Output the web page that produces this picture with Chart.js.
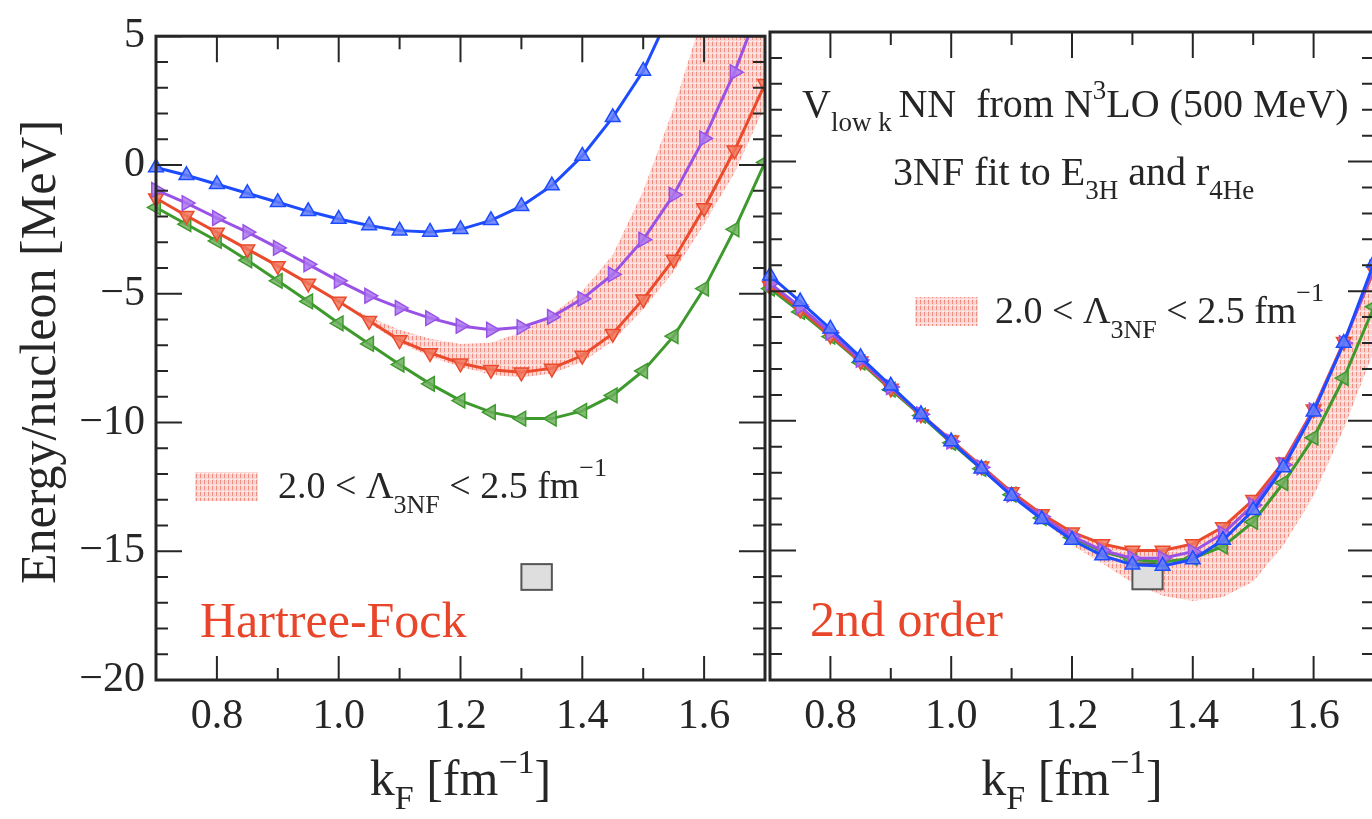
<!DOCTYPE html>
<html>
<head>
<meta charset="utf-8">
<script src="https://cdn.jsdelivr.net/npm/chart.js@4.4.1/dist/chart.umd.min.js"></script>
<style>
  html, body { margin: 0; padding: 0; background: #fff; overflow: hidden; width: 1372px; height: 819px; }
  #esq { position: absolute; left: 0; top: 0; }
  #dir { position: absolute; left: 760px; top: 0; }
</style>
</head>
<body>
<canvas id="esq" width="775" height="819"></canvas>
<canvas id="dir" width="625" height="819"></canvas>
<script>
// Dados
const kF = [0.70, 0.75, 0.80, 0.85, 0.90, 0.95, 1.00, 1.05, 1.10, 1.15, 1.20,
            1.25, 1.30, 1.35, 1.40, 1.45, 1.50, 1.55, 1.60, 1.65, 1.70];

// Hartree-Fock
const hfAzul = [-0.1, -0.4, -0.75, -1.1, -1.45, -1.8, -2.1, -2.35, -2.55, -2.6, -2.5,
                -2.15, -1.6, -0.8, 0.35, 1.85, 3.65, 6.2, 9.2, 12.6, 16.4];
const hfRoxo = [-0.97, -1.48, -2.06, -2.61, -3.22, -3.86, -4.5, -5.08, -5.55, -5.95, -6.25,
                -6.4, -6.3, -5.9, -5.2, -4.25, -2.9, -1.16, 1.03, 3.6, 6.7];
const hfVermelho = [-1.29, -1.97, -2.62, -3.27, -3.92, -4.6, -5.3, -6.05, -6.8, -7.3, -7.7,
                    -7.95, -8.05, -7.9, -7.4, -6.55, -5.21, -3.67, -1.67, 0.57, 3.15];
const hfVerde = [-1.65, -2.3, -2.95, -3.7, -4.5, -5.3, -6.15, -6.95, -7.75, -8.5, -9.15,
                 -9.6, -9.85, -9.85, -9.55, -8.95, -8.0, -6.65, -4.8, -2.5, 0.1];
const hfFaixaSup = [null, null, null, null, null, null, -5.3, -5.9, -6.4, -6.75, -6.95,
                    -6.9, -6.5, -5.8, -4.9, -3.5, -1.0, 2.2, 6.0, 10.0, 14.0];
const hfFaixaInf = [null, null, null, null, null, null, -5.3, -6.15, -6.9, -7.45, -7.85,
                    -8.15, -8.25, -8.1, -7.65, -6.85, -5.6, -4.15, -2.3, -0.3, 2.3];

// 2a ordem
const soAzul = [-4.4, -5.4, -6.45, -7.55, -8.65, -9.75, -10.8, -11.85, -12.9, -13.8, -14.6,
                -15.2, -15.55, -15.6, -15.35, -14.6, -13.45, -11.8, -9.65, -7.0, -3.9];
const soRoxo = [-4.7, -5.6, -6.6, -7.65, -8.7, -9.75, -10.8, -11.8, -12.85, -13.7, -14.45,
                -15.0, -15.3, -15.3, -15.05, -14.35, -13.25, -11.7, -9.6, -7.0, -4.1];
const soVermelho = [-4.8, -5.7, -6.7, -7.7, -8.75, -9.75, -10.75, -11.75, -12.75, -13.6, -14.3,
                    -14.75, -15.0, -15.0, -14.75, -14.1, -13.05, -11.6, -9.55, -6.95, -4.2];
const soVerde = [-4.9, -5.8, -6.75, -7.75, -8.8, -9.8, -10.85, -11.85, -12.85, -13.75, -14.5,
                 -15.05, -15.35, -15.45, -15.3, -14.85, -13.9, -12.4, -10.65, -8.35, -5.6];
const soFaixaSup = [null, null, null, null, null, null, null, null, null, -13.6, -14.3,
                    -14.75, -15.0, -15.0, -14.75, -14.1, -13.05, -11.6, -9.55, -6.95, -4.2];
const soFaixaInf = [null, null, null, null, null, null, null, null, null, -13.8, -14.8,
                    -15.5, -16.25, -16.75, -16.95, -16.8, -16.2, -14.8, -12.9, -10.3, -7.3];

// caixa do ponto de saturação empírico
const caixaK = [1.30, 1.35];
const caixaE = [-16.5, -15.5];

// eixos
const xRotulos = [0.8, 1.0, 1.2, 1.4, 1.6];
const xMenores = [0.9, 1.1, 1.3, 1.5];
const yRotulos = [5, 0, -5, -10, -15, -20];

const SERIF = '"Liberation Serif", "DejaVu Serif", serif';
const CINZA = '#262626';
const VERMELHO_TXT = '#e8452a';

const cores = {
  azul: ['#1d4cff', 'rgba(100,125,250,0.85)'],
  roxo: ['#9a52e6', 'rgba(170,120,240,0.85)'],
  vermelho: ['#ea4b2c', 'rgba(240,120,95,0.85)'],
  verde: ['#3e9a2d', 'rgba(110,175,95,0.85)']
};

// padrão hachurado da faixa
function hachura() {
  const c = document.createElement('canvas');
  c.width = 4; c.height = 6;
  const g = c.getContext('2d');
  g.fillStyle = 'rgba(246,185,178,0.6)';
  g.fillRect(0, 0, 4, 6);
  g.fillStyle = 'rgba(228,85,65,0.55)';
  g.fillRect(0, 0, 1, 4);
  g.fillStyle = 'rgba(255,255,255,0.7)';
  g.fillRect(2, 5, 2, 1);
  return g.createPattern(c, 'repeat');
}
const padrao = hachura();

function pontos(ys) {
  return kF.map((k, i) => ({ x: k, y: ys[i] })).filter(p => p.y !== null);
}

function serie(ys, cor, rot, ordem) {
  return {
    data: pontos(ys),
    borderColor: cores[cor][0],
    backgroundColor: cores[cor][1],
    borderWidth: 3,
    pointStyle: 'triangle',
    pointRotation: rot,
    pointRadius: 8.5,
    pointBorderWidth: 1.5,
    pointBorderColor: cores[cor][0],
    pointBackgroundColor: cores[cor][1],
    tension: 0,
    fill: false,
    order: ordem,
    clip: { left: 12, right: 0, top: 0, bottom: 0 }
  };
}

function faixa(sup, inf) {
  return [
    { data: pontos(sup), borderWidth: 0, pointRadius: 0, fill: '+1', backgroundColor: padrao, order: 10 },
    { data: pontos(inf), borderWidth: 0, pointRadius: 0, fill: false, order: 11 }
  ];
}

// texto com índices e expoentes: partes = [texto, tamanho, deslocamento]
function largura(ctx, partes) {
  let w = 0;
  for (const p of partes) { ctx.font = p[1] + 'px ' + SERIF; w += ctx.measureText(p[0]).width; }
  return w;
}
function texto(ctx, x, y, partes, cor) {
  ctx.save();
  ctx.fillStyle = cor || CINZA;
  ctx.textAlign = 'left';
  ctx.textBaseline = 'alphabetic';
  let px = x;
  for (const p of partes) {
    ctx.font = p[1] + 'px ' + SERIF;
    ctx.fillText(p[0], px, y + (p[2] || 0));
    px += ctx.measureText(p[0]).width;
  }
  ctx.restore();
}

function legendaFaixa(ctx, x, y, xTxt, base) {
  ctx.save();
  ctx.fillStyle = padrao;
  ctx.fillRect(x, y, 63, 29);
  ctx.restore();
  texto(ctx, xTxt, base, [['2.0 < Λ', 38], ['3NF', 26, 15], [' < 2.5 fm', 38], ['−1', 26, -22]]);
}

// caixa cinza por baixo das curvas
const caixaPlugin = {
  id: 'caixa',
  beforeDatasetsDraw(chart) {
    const { ctx, scales: { x, y } } = chart;
    const x0 = x.getPixelForValue(caixaK[0]), x1 = x.getPixelForValue(caixaK[1]);
    const y0 = y.getPixelForValue(caixaE[1]), y1 = y.getPixelForValue(caixaE[0]);
    ctx.save();
    ctx.fillStyle = '#dedede';
    ctx.strokeStyle = '#555';
    ctx.lineWidth = 2;
    ctx.fillRect(x0, y0, x1 - x0, y1 - y0);
    ctx.strokeRect(x0, y0, x1 - x0, y1 - y0);
    ctx.restore();
  }
};

// moldura com marcas para dentro nos quatro lados
const molduraPlugin = {
  id: 'moldura',
  afterDatasetsDraw(chart) {
    const { ctx, chartArea: a, scales: { x, y } } = chart;
    ctx.save();
    ctx.strokeStyle = CINZA;
    ctx.lineWidth = 2;
    ctx.beginPath();
    for (let v = -20; v <= 5; v++) {
      const py = y.getPixelForValue(v);
      const L = v % 5 === 0 ? 26 : 12;
      ctx.moveTo(a.left, py); ctx.lineTo(a.left + L, py);
      ctx.moveTo(a.right, py); ctx.lineTo(a.right - L, py);
    }
    for (const v of xRotulos) {
      const px = x.getPixelForValue(v);
      ctx.moveTo(px, a.bottom); ctx.lineTo(px, a.bottom - 24);
      ctx.moveTo(px, a.top); ctx.lineTo(px, a.top + 26);
    }
    for (const v of xMenores) {
      const px = x.getPixelForValue(v);
      ctx.moveTo(px, a.bottom); ctx.lineTo(px, a.bottom - 12);
      ctx.moveTo(px, a.top); ctx.lineTo(px, a.top + 13);
    }
    ctx.stroke();
    ctx.lineWidth = 3;
    ctx.strokeRect(a.left, a.top, a.right - a.left, a.bottom - a.top);
    ctx.restore();

    // título do eixo x
    const partes = [['k', 50], ['F', 34, 14], [' [fm', 50], ['−1', 34, -22], [']', 50]];
    const cx = (a.left + a.right) / 2;
    texto(ctx, cx - largura(ctx, partes) / 2, 795, partes);
  }
};

// anotações de cada painel
const textosEsq = {
  id: 'textosEsq',
  afterDraw(chart) {
    const ctx = chart.ctx;
    texto(ctx, 200, 637, [['Hartree-Fock', 50]], VERMELHO_TXT);
    legendaFaixa(ctx, 195, 472, 278, 498);
    ctx.save();
    ctx.translate(55, 352);
    ctx.rotate(-Math.PI / 2);
    ctx.fillStyle = CINZA;
    ctx.font = '50px ' + SERIF;
    ctx.textAlign = 'center';
    ctx.textBaseline = 'alphabetic';
    ctx.fillText('Energy/nucleon [MeV]', 0, 0);
    ctx.restore();
  }
};

const OX = 760; // deslocamento do segundo canvas
const textosDir = {
  id: 'textosDir',
  afterDraw(chart) {
    const ctx = chart.ctx;
    texto(ctx, 810 - OX, 636, [['2nd order', 50]], VERMELHO_TXT);
    legendaFaixa(ctx, 915 - OX, 297, 995 - OX, 323);
    texto(ctx, 802 - OX, 117, [['V', 40], ['low k ', 27, 14], ['NN  from N', 40], ['3', 27, -18], ['LO (500 MeV)', 40]]);
    texto(ctx, 893 - OX, 185, [['3NF fit to E', 40], ['3H', 27, 14], [' and r', 40], ['4He', 27, 14]]);
  }
};

function opcoes(mostrarY, padding) {
  return {
    responsive: false,
    animation: false,
    events: [],
    layout: { padding: padding },
    plugins: { legend: { display: false }, tooltip: { enabled: false }, filler: { drawTime: 'beforeDatasetsDraw' } },
    scales: {
      x: {
        type: 'linear', min: 0.7, max: 1.7,
        grid: { display: false, drawTicks: false },
        border: { display: false },
        afterBuildTicks: s => { s.ticks = xRotulos.map(v => ({ value: v })); },
        afterFit: s => { s.height = 139; },
        ticks: {
          autoSkip: false, maxRotation: 0, padding: 12, color: CINZA,
          font: { family: SERIF, size: 42 },
          callback: v => Number(v).toFixed(1)
        }
      },
      y: {
        type: 'linear', min: -20, max: 5, display: mostrarY,
        grid: { display: false, drawTicks: false },
        border: { display: false },
        afterBuildTicks: s => { s.ticks = yRotulos.map(v => ({ value: v })); },
        afterFit: s => { s.width = mostrarY ? 156 : 0; },
        ticks: {
          padding: 11, color: CINZA,
          font: { family: SERIF, size: 42 },
          callback: v => (v < 0 ? '−' + Math.abs(v) : String(v))
        }
      }
    }
  };
}

new Chart(document.getElementById('esq'), {
  type: 'line',
  data: {
    datasets: [
      ...faixa(hfFaixaSup, hfFaixaInf),
      serie(hfVerde, 'verde', 270, 4),
      serie(hfVermelho, 'vermelho', 180, 3),
      serie(hfRoxo, 'roxo', 90, 2),
      serie(hfAzul, 'azul', 0, 1)
    ]
  },
  options: opcoes(true, { left: 0, right: 10, top: 32, bottom: 0 }),
  plugins: [caixaPlugin, molduraPlugin, textosEsq]
});

new Chart(document.getElementById('dir'), {
  type: 'line',
  data: {
    datasets: [
      ...faixa(soFaixaSup, soFaixaInf),
      serie(soVerde, 'verde', 270, 4),
      serie(soVermelho, 'vermelho', 180, 3),
      serie(soRoxo, 'roxo', 90, 2),
      serie(soAzul, 'azul', 0, 1)
    ]
  },
  options: opcoes(false, { left: 5, right: 11, top: 32, bottom: 0 }),
  plugins: [caixaPlugin, molduraPlugin, textosDir]
});
</script>
</body>
</html>
